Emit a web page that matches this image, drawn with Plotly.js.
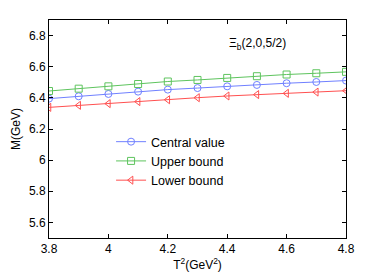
<!DOCTYPE html>
<html><head><meta charset="utf-8">
<script src="https://cdn.plot.ly/plotly-3.0.1.min.js"></script>
<style>html,body{margin:0;padding:0;background:#fff}#chart{width:382px;height:273px}</style>
</head><body><div id="chart"></div>
<script>
const T2 = [3.8, 3.9, 4.0, 4.1, 4.2, 4.3, 4.4, 4.5, 4.6, 4.7, 4.8];
const central = [6.395, 6.410, 6.425, 6.440, 6.453, 6.463, 6.474, 6.483, 6.494, 6.502, 6.511];
const upper = [6.444, 6.459, 6.474, 6.489, 6.505, 6.515, 6.528, 6.539, 6.550, 6.558, 6.567];
const lower = [6.339, 6.352, 6.363, 6.376, 6.388, 6.401, 6.412, 6.421, 6.429, 6.437, 6.446];
const names = ['Central value', 'Upper bound', 'Lower bound'];
const xTicks = [3.8, 4.0, 4.2, 4.4, 4.6, 4.8];
const yTicks = [5.6, 5.8, 6.0, 6.2, 6.4, 6.6, 6.8];
const yTickText = ['5.6', '5.8', '6', '6.2', '6.4', '6.6', '6.8'];
const xTickText = ['3.8', '4', '4.2', '4.4', '4.6', '4.8'];

const font = {family: 'Liberation Sans, Arial, sans-serif', size: 12, color: '#000'};
function tr(y, name, color, sym) {
  return {x: T2, y: y, name: name, type: 'scatter', mode: 'lines+markers',
    line: {color: color, width: 1},
    marker: {symbol: sym, size: 7, color: color, line: {color: color, width: 1}}};
}
const data = [
  tr(central, names[0], '#7080ff', 'circle-open'),
  tr(upper, names[1], '#5ec45e', 'square-open'),
  tr(lower, names[2], '#ff5050', 'triangle-left-open')
];
const axisCommon = {showgrid: false, zeroline: false, showline: true, mirror: 'ticks',
  linecolor: '#000', linewidth: 1, ticks: 'inside', ticklen: 4, tickcolor: '#000', tickfont: font};
const layout = {
  width: 382, height: 273, paper_bgcolor: '#fff', plot_bgcolor: '#fff',
  margin: {l: 49, r: 36, t: 20, b: 35},
  font: font, showlegend: true,
  legend: {x: 0.209, y: 0.353, xanchor: 'left', yanchor: 'middle', bgcolor: 'rgba(0,0,0,0)',
    font: {family: font.family, size: 12.5, color: '#000'}, tracegroupgap: 0},
  xaxis: Object.assign({}, axisCommon, {range: [3.8, 4.8], tickvals: xTicks, ticktext: xTickText,
    title: {text: 'T<sup>2</sup>(GeV<sup>2</sup>)', font: font, standoff: 2}}),
  yaxis: Object.assign({}, axisCommon, {range: [5.5, 6.9], tickvals: yTicks, ticktext: yTickText,
    title: {text: 'M(GeV)', font: font, standoff: 5}}),
  annotations: [{x: 0.598, y: 0.89, xref: 'paper', yref: 'paper', xanchor: 'left', yanchor: 'middle',
    showarrow: false, text: 'Ξ<sub>b</sub>(2,0,5/2)', font: font}]
};
Plotly.newPlot('chart', data, layout, {displayModeBar: false, staticPlot: true});
</script></body></html>
